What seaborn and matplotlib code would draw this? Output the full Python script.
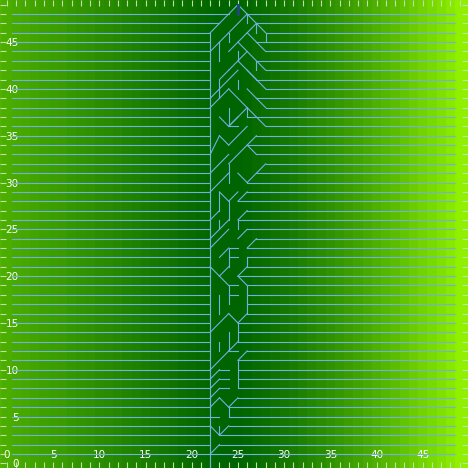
import numpy as np
import pandas as pd
import matplotlib
matplotlib.use("Agg")
import matplotlib.pyplot as plt
import seaborn as sns
from matplotlib.colors import LinearSegmentedColormap

# background shade per column, x = -1 .. 50
bg_shade = [0.55, 0.52, 0.50, 0.48, 0.46, 0.44, 0.42, 0.40, 0.37, 0.35,
            0.33, 0.30, 0.28, 0.26, 0.23, 0.21, 0.18, 0.16, 0.13, 0.11,
            0.08, 0.06, 0.04, 0.02, 0.0, 0.0, 0.0, 0.02, 0.05, 0.08,
            0.11, 0.14, 0.17, 0.21, 0.25, 0.29, 0.33, 0.37, 0.41, 0.45,
            0.50, 0.54, 0.59, 0.64, 0.69, 0.74, 0.79, 0.84, 0.89, 0.94,
            1.0, 1.0]

rows = list(range(1, 49))
# where each row's left line stops and right line starts
left_end = [22, 22, 22, 22, 23, 22, 22, 22, 22, 22,
            22, 22, 22, 22, 22, 22, 22, 22, 22, 22,
            22, 22, 22, 22, 22, 22, 22, 22, 22, 22,
            22, 22, 22, 22, 22, 22, 22, 22, 22, 22,
            22, 22, 22, 22, 22, 22, 23, 24]
right_start = [22, 23, 23, 24, 24, 24, 25, 25, 25, 25,
               25, 26, 25, 25, 25, 26, 26, 26, 26, 25,
               26, 26, 26, 27, 26, 25, 26, 25, 26, 26,
               27, 28, 27, 26, 27, 28, 26, 28, 27, 28,
               27, 28, 27, 28, 27, 28, 27, 26]

# tree branches (x0, y0, x1, y1)
branches = [
    (22, -1, 22, 46),
    (25, 49, 28, 46), (25, 49, 23, 47), (23, 47, 22, 46), (26, 48, 26, 47),
    (26, 48, 23, 45), (27, 47, 27, 46), (27, 47, 24, 44), (26, 46, 28, 44),
    (28, 46, 28, 45), (24, 46, 24, 45), (23, 45, 23, 43), (25, 45, 28, 42),
    (26, 44, 24, 42), (27, 43, 27, 42), (25, 44, 25, 43), (22, 44, 23, 45),
    (25, 43, 27, 41), (26, 42, 28, 40), (24, 42, 23, 41), (23, 41, 23, 39),
    (22, 39, 25, 42), (25, 41, 25, 40), (26, 40, 27, 39), (27, 39, 28, 38),
    (24, 40, 26, 38), (22, 38, 24, 40),
    (23, 37, 24, 36), (24, 36, 25, 37), (24, 36, 24, 38), (24, 36, 25, 36),
    (24, 36, 26, 38), (26, 38, 26, 37), (26, 38, 28, 36),
    (24, 32, 27, 35), (23, 35, 24, 34), (24, 34, 26, 36), (26, 34, 27, 33),
    (22, 33, 23, 35), (22, 31, 24, 33),
    (25, 31, 26, 30), (26, 30, 28, 32), (24, 30, 24, 32), (22, 29, 24, 31),
    (23, 29, 24, 28), (24, 28, 25, 29), (24, 28, 24, 26), (23, 29, 23, 27),
    (25, 28, 26, 29), (23, 27, 22, 26), (25, 26, 26, 27), (25, 26, 25, 25),
    (23, 26, 23, 25), (25, 24, 26, 25), (22, 24, 24, 26), (22, 23, 24, 25),
    (24, 23, 24, 21), (24, 23, 25, 23), (24, 22, 25, 22), (23, 22, 24, 23),
    (25, 20, 26, 21), (26, 21, 26, 22), (26, 23, 27, 24),
    (22, 21, 23, 20), (23, 20, 24, 21), (23, 20, 24, 19), (25, 20, 26, 19),
    (24, 19, 24, 17), (24, 19, 25, 19), (24, 18, 25, 18), (23, 18, 23, 16),
    (26, 19, 26, 16),
    (22, 14, 24, 16), (24, 16, 25, 15), (25, 15, 26, 16), (25, 15, 25, 13),
    (24, 12, 22, 10), (25, 13, 24, 12), (24, 12, 25, 12), (24, 12, 24, 14),
    (23, 12, 23, 13), (25, 11, 26, 12), (25, 11, 25, 8),
    (22, 9, 23, 10), (23, 10, 24, 10), (22, 8, 23, 9), (23, 9, 24, 9),
    (22, 7, 23, 8), (23, 8, 24, 8),
    (22, 6, 23, 7), (23, 7, 24, 6), (24, 6, 25, 7), (24, 6, 24, 5),
    (22, 4, 23, 3), (23, 3, 23, 4), (23, 3, 24, 4), (22, 1, 23, 2),
]
root = (25, 49, 25, 48)

line_color = "#72b0e2"

segs = []
for y, le, rs in zip(rows, left_end, right_start):
    segs.append((0.5, y, le, y))
    segs.append((rs, y, 48.5, y))
segs += branches

recs = []
for i, (x0, y0, x1, y1) in enumerate(segs):
    recs.append({"seg": i, "x": x0, "y": y0})
    recs.append({"seg": i, "x": x1, "y": y1})
df = pd.DataFrame(recs)

fig = plt.figure(figsize=(4.68, 4.68), dpi=100)
xlim = (-0.75, 49.9)
ylim = (-0.5, 49.5)

# background gradient
ax_bg = fig.add_axes([0, 0, 1, 1])
cmap = LinearSegmentedColormap.from_list("greens", ["#006400", "#90f000"])
sns.heatmap(np.array(bg_shade).reshape(1, -1), ax=ax_bg, cmap=cmap, vmin=0, vmax=1,
            cbar=False, xticklabels=False, yticklabels=False)
ax_bg.set_xlim(xlim[0] + 1.5, xlim[1] + 1.5)
ax_bg.set_ylim(1, 0)
ax_bg.set_axis_off()

ax = fig.add_axes([0, 0, 1, 1])
ax.set_facecolor("none")
sns.lineplot(data=df, x="x", y="y", units="seg", estimator=None, sort=False,
             color=line_color, lw=0.8, legend=False, ax=ax)
ax.plot([root[0], root[2]], [root[1], root[3]], color="#1f4a78", lw=2.2)

ax.set_xlim(*xlim)
ax.set_ylim(*ylim)
ax.set_xlabel("")
ax.set_ylabel("")
for s in ax.spines.values():
    s.set_visible(False)

ax.set_xticks(range(0, 50, 5))
ax.set_yticks(range(0, 50, 5))
ax.set_xticks(range(0, 50), minor=True)
ax.set_yticks(range(0, 50), minor=True)
ax.tick_params(which="both", direction="in", top=True, right=True,
               color="#bfe0a8", length=4, width=0.8)
ax.tick_params(axis="x", labelcolor="white", labelsize=7.5, pad=-13)
ax.tick_params(axis="y", labelcolor="white", labelsize=7.5, pad=-13.5)

fig.savefig("out.png", dpi=100)
